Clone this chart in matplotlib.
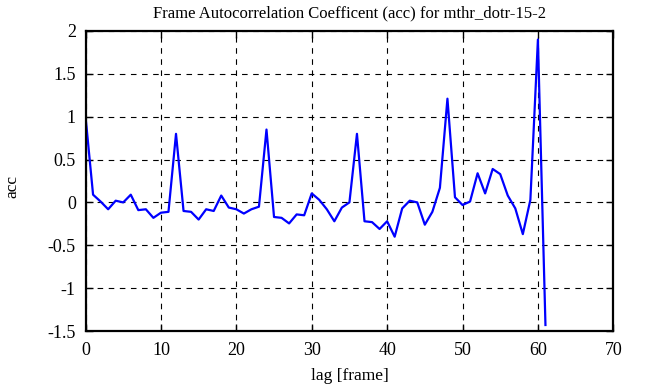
import numpy as np
import matplotlib
matplotlib.use('Agg')
import matplotlib.pyplot as plt

# ---------------------------
# Data
# ---------------------------
lag = np.arange(0, 62)
acc = [
    1.00, 0.09, 0.01, -0.08, 0.02, 0.00, 0.09, -0.09, -0.08, -0.18,
    -0.12, -0.11, 0.80, -0.10, -0.11, -0.20, -0.08, -0.10, 0.08, -0.06,
    -0.08, -0.13, -0.08, -0.05, 0.85, -0.17, -0.18, -0.245, -0.14, -0.15,
    0.105, 0.03, -0.08, -0.22, -0.06, 0.00, 0.80, -0.22, -0.23, -0.31,
    -0.22, -0.40, -0.07, 0.02, 0.00, -0.26, -0.11, 0.17, 1.21, 0.06,
    -0.03, 0.01, 0.34, 0.105, 0.39, 0.33, 0.08, -0.07, -0.37, 0.03,
    1.90, -1.43,
]

title = "Frame Autocorrelation Coefficent (acc) for mthr_dotr-15-2"
xticks = [0, 10, 20, 30, 40, 50, 60, 70]
yticks = [-1.5, -1, -0.5, 0, 0.5, 1, 1.5, 2]
ytick_labels = ["-1.5", "-1", "-0.5", "0", "0.5", "1", "1.5", "2"]

# ---------------------------
# Plot
# ---------------------------
plt.rcParams['font.family'] = ['Liberation Serif', 'DejaVu Serif']
plt.rcParams['font.size'] = 12

fig = plt.figure(figsize=(6.46, 3.87), dpi=100)
ax = fig.add_axes([0.1324, 0.1447, 0.8170, 0.7753])

ax.plot(lag, acc, color="#0000ff", linewidth=1.6)

ax.set_xlim(0, 70)
ax.set_ylim(-1.5, 2)
ax.set_xticks(xticks)
ax.set_yticks(yticks)
ax.set_yticklabels(ytick_labels)
ax.grid(True, color="black", linestyle=(0, (5, 5)), linewidth=0.8)
ax.tick_params(direction="in", length=5, width=1, top=True, right=True,
               labelsize=13)
ax.tick_params(axis="x", pad=8)
ax.tick_params(axis="y", pad=7)
for s in ax.spines.values():
    s.set_linewidth(1.6)

ax.set_title(title, fontsize=12, pad=10)
ax.set_xlabel("lag [frame]", fontsize=12.5)
ax.set_ylabel("acc", fontsize=12.5)
ax.xaxis.set_label_coords(0.5, -0.15, transform=ax.transAxes)
ax.yaxis.set_label_coords(-0.139, 0.48, transform=ax.transAxes)
ax.xaxis.label.set_va("center")
ax.yaxis.label.set_va("center")

plt.savefig("out.png", dpi=100)
plt.close()
